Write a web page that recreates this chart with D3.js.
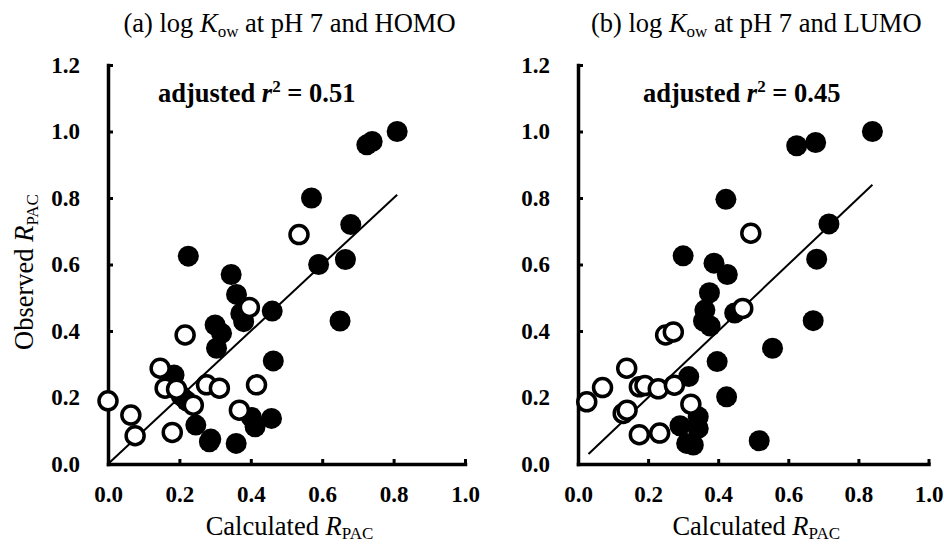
<!DOCTYPE html>
<html>
<head>
<meta charset="utf-8">
<script src="https://cdn.jsdelivr.net/npm/d3@7"></script>
<style>
  body { margin: 0; background: #fff; }
  text { font-family: "Liberation Serif", "Times New Roman", serif; fill: #000; }
</style>
</head>
<body>
<svg id="chart" width="944" height="544"></svg>
<script>
// panel (a): log Kow at pH 7 and HOMO  [calculated, observed]
var homoFilled = [[0.81,1.00],[0.725,0.96],[0.74,0.97],[0.57,0.80],[0.68,0.72],[0.59,0.60],[0.665,0.615],
  [0.225,0.625],[0.345,0.57],[0.36,0.51],[0.372,0.453],[0.38,0.428],[0.46,0.46],[0.65,0.43],[0.30,0.418],
  [0.318,0.393],[0.304,0.348],[0.463,0.31],[0.185,0.268],[0.205,0.205],[0.22,0.19],[0.402,0.14],
  [0.412,0.112],[0.458,0.137],[0.246,0.117],[0.284,0.067],[0.288,0.075],[0.359,0.062]];
var homoOpen = [[0.535,0.69],[0.396,0.471],[0.216,0.388],[0.146,0.288],[0.16,0.228],[0.192,0.225],
  [0.239,0.177],[0.276,0.238],[0.312,0.228],[0.416,0.238],[0.368,0.162],[0.0,0.19],[0.064,0.147],
  [0.076,0.085],[0.18,0.095]];
var homoLine = [0, 0.81];

// panel (b): log Kow at pH 7 and LUMO
var lumoFilled = [[0.84,1.00],[0.624,0.957],[0.678,0.967],[0.422,0.796],[0.716,0.722],[0.681,0.616],
  [0.30,0.626],[0.388,0.604],[0.426,0.57],[0.375,0.515],[0.362,0.463],[0.358,0.43],[0.377,0.415],
  [0.447,0.454],[0.671,0.431],[0.555,0.348],[0.397,0.308],[0.316,0.263],[0.424,0.202],[0.517,0.07],
  [0.291,0.115],[0.343,0.142],[0.343,0.107],[0.31,0.062],[0.329,0.057]];
var lumoOpen = [[0.493,0.694],[0.47,0.468],[0.25,0.388],[0.272,0.397],[0.139,0.288],[0.07,0.23],
  [0.025,0.187],[0.175,0.232],[0.191,0.236],[0.229,0.226],[0.275,0.237],[0.129,0.152],[0.14,0.162],
  [0.322,0.18],[0.175,0.088],[0.233,0.093]];
var lumoLine = [0.03, 0.84];

var xTicks = [0, 0.2, 0.4, 0.6, 0.8, 1.0];
var yTicks = [0, 0.2, 0.4, 0.6, 0.8, 1.0, 1.2];
var r2Values = ["0.51", "0.45"];
var panelLabels = ["(a)", "(b)"];
var orbitals = ["HOMO", "LUMO"];

var svg = d3.select("#chart");
var yTop = 65, yBottom = 464;

function drawPanel(i, x0, x1, filled, open, line, showYTitle) {
  var x = d3.scaleLinear().domain([0, 1]).range([x0, x1]);
  var y = d3.scaleLinear().domain([0, 1.2]).range([yBottom, yTop]);
  var g = svg.append("g");

  // axes, ticks pointing inward
  var xAxis = d3.axisBottom(x).tickValues(xTicks).tickFormat(d3.format(".1f"))
    .tickSizeInner(-5).tickSizeOuter(0).tickPadding(22);
  var yAxis = d3.axisLeft(y).tickValues(yTicks).tickFormat(d3.format(".1f"))
    .tickSizeInner(-5).tickSizeOuter(0).tickPadding(28);

  var gx = g.append("g").attr("transform", "translate(0," + yBottom + ")").call(xAxis);
  var gy = g.append("g").attr("transform", "translate(" + x0 + ",0)").call(yAxis);
  [gx, gy].forEach(function(a) {
    a.attr("font-family", null);
    a.select(".domain").attr("stroke-width", 3.5).attr("stroke-linecap", "square");
    a.selectAll(".tick line").attr("stroke-width", 3);
    a.selectAll(".tick text").attr("font-size", 23).attr("font-weight", "bold");
  });

  // 1:1 line
  g.append("line")
    .attr("x1", x(line[0])).attr("y1", y(line[0]))
    .attr("x2", x(line[1])).attr("y2", y(line[1]))
    .attr("stroke", "#000").attr("stroke-width", 2);

  // points: filled first, open on top
  g.selectAll("circle.f").data(filled).enter().append("circle")
    .attr("class", "f")
    .attr("cx", function(d) { return x(d[0]); })
    .attr("cy", function(d) { return y(d[1]); })
    .attr("r", 10.5).attr("fill", "#000");
  g.selectAll("circle.o").data(open).enter().append("circle")
    .attr("class", "o")
    .attr("cx", function(d) { return x(d[0]); })
    .attr("cy", function(d) { return y(d[1]); })
    .attr("r", 9).attr("fill", "#fff").attr("stroke", "#000").attr("stroke-width", 3.5);

  var cx = (x0 + x1) / 2;

  // title
  var t = g.append("text").attr("x", cx + 3).attr("y", 32).attr("text-anchor", "middle").attr("font-size", 26.5);
  t.append("tspan").text(panelLabels[i] + " log ");
  t.append("tspan").attr("font-style", "italic").text("K");
  t.append("tspan").attr("font-size", 17).attr("dy", 5).text("ow");
  t.append("tspan").attr("dy", -5).text(" at pH 7 and " + orbitals[i]);

  // r2 annotation
  var a = g.append("text").attr("x", x0 + (i === 0 ? 50 : 65)).attr("y", 102)
    .attr("font-size", 26.5).attr("font-weight", "bold");
  a.append("tspan").text("adjusted ");
  a.append("tspan").attr("font-style", "italic").text("r");
  a.append("tspan").attr("font-size", 17).attr("dy", -10).text("2");
  a.append("tspan").attr("dy", 10).text(" = " + r2Values[i]);

  // x title
  var xt = g.append("text").attr("x", cx + 3).attr("y", 535).attr("text-anchor", "middle").attr("font-size", 26.5);
  xt.append("tspan").text("Calculated ");
  xt.append("tspan").attr("font-style", "italic").text("R");
  xt.append("tspan").attr("font-size", 17).attr("dy", 4).text("PAC");

  if (showYTitle) {
    var yt = g.append("text").attr("transform", "translate(33," + 272 + ") rotate(-90)")
      .attr("text-anchor", "middle").attr("font-size", 26.5);
    yt.append("tspan").text("Observed ");
    yt.append("tspan").attr("font-style", "italic").text("R");
    yt.append("tspan").attr("font-size", 17).attr("dy", 5).text("PAC");
  }
}

drawPanel(0, 108, 465, homoFilled, homoOpen, homoLine, true);
drawPanel(1, 578, 928.5, lumoFilled, lumoOpen, lumoLine, false);
</script>
</body>
</html>
